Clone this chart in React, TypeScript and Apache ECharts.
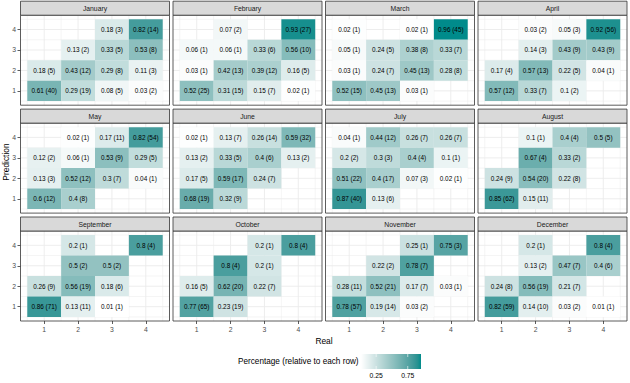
import React, { useEffect, useRef } from "react";
import * as echarts from "echarts";

// ---------- data ----------
const months = [
  "January", "February", "March", "April", "May", "June",
  "July", "August", "September", "October", "November", "December",
];
// each cell: [real, prediction, percentage, count]
const january = [[3,4,0.18,3],[4,4,0.82,14],[2,3,0.13,2],[3,3,0.33,5],[4,3,0.53,8],[1,2,0.18,5],[2,2,0.43,12],[3,2,0.29,8],[4,2,0.11,3],[1,1,0.61,40],[2,1,0.29,19],[3,1,0.08,5],[4,1,0.03,2]];
const february = [[2,4,0.07,2],[4,4,0.93,27],[1,3,0.06,1],[2,3,0.06,1],[3,3,0.33,6],[4,3,0.56,10],[1,2,0.03,1],[2,2,0.42,13],[3,2,0.39,12],[4,2,0.16,5],[1,1,0.52,25],[2,1,0.31,15],[3,1,0.15,7],[4,1,0.02,1]];
const march = [[1,4,0.02,1],[3,4,0.02,1],[4,4,0.96,45],[1,3,0.05,1],[2,3,0.24,5],[3,3,0.38,8],[4,3,0.33,7],[1,2,0.03,1],[2,2,0.24,7],[3,2,0.45,13],[4,2,0.28,8],[1,1,0.52,15],[2,1,0.45,13],[3,1,0.03,1]];
const april = [[2,4,0.03,2],[3,4,0.05,3],[4,4,0.92,56],[2,3,0.14,3],[3,3,0.43,9],[4,3,0.43,9],[1,2,0.17,4],[2,2,0.57,13],[3,2,0.22,5],[4,2,0.04,1],[1,1,0.57,12],[2,1,0.33,7],[3,1,0.1,2]];
const may = [[2,4,0.02,1],[3,4,0.17,11],[4,4,0.82,54],[1,3,0.12,2],[2,3,0.06,1],[3,3,0.53,9],[4,3,0.29,5],[1,2,0.13,3],[2,2,0.52,12],[3,2,0.3,7],[4,2,0.04,1],[1,1,0.6,12],[2,1,0.4,8]];
const june = [[1,4,0.02,1],[2,4,0.13,7],[3,4,0.26,14],[4,4,0.59,32],[1,3,0.13,2],[2,3,0.33,5],[3,3,0.4,6],[4,3,0.13,2],[1,2,0.17,5],[2,2,0.59,17],[3,2,0.24,7],[1,1,0.68,19],[2,1,0.32,9]];
const july = [[1,4,0.04,1],[2,4,0.44,12],[3,4,0.26,7],[4,4,0.26,7],[1,3,0.2,2],[2,3,0.3,3],[3,3,0.4,4],[4,3,0.1,1],[1,2,0.51,22],[2,2,0.4,17],[3,2,0.07,3],[4,2,0.02,1],[1,1,0.87,40],[2,1,0.13,6]];
const august = [[2,4,0.1,1],[3,4,0.4,4],[4,4,0.5,5],[2,3,0.67,4],[3,3,0.33,2],[1,2,0.24,9],[2,2,0.54,20],[3,2,0.22,8],[1,1,0.85,62],[2,1,0.15,11]];
const september = [[2,4,0.2,1],[4,4,0.8,4],[2,3,0.5,2],[3,3,0.5,2],[1,2,0.26,9],[2,2,0.56,19],[3,2,0.18,6],[1,1,0.86,71],[2,1,0.13,11],[3,1,0.01,1]];
const october = [[3,4,0.2,1],[4,4,0.8,4],[2,3,0.8,4],[3,3,0.2,1],[1,2,0.16,5],[2,2,0.62,20],[3,2,0.22,7],[1,1,0.77,65],[2,1,0.23,19]];
const november = [[3,4,0.25,1],[4,4,0.75,3],[2,3,0.22,2],[3,3,0.78,7],[1,2,0.28,11],[2,2,0.52,21],[3,2,0.17,7],[4,2,0.03,1],[1,1,0.78,57],[2,1,0.19,14],[3,1,0.03,2]];
const december = [[2,4,0.2,1],[4,4,0.8,4],[2,3,0.13,2],[3,3,0.47,7],[4,3,0.4,6],[1,2,0.24,8],[2,2,0.56,19],[3,2,0.21,7],[1,1,0.82,59],[2,1,0.14,10],[3,1,0.03,2],[4,1,0.01,1]];
const monthData = [january, february, march, april, may, june, july, august, september, october, november, december];

const tickValues = [1, 2, 3, 4];
const gridBreaks = [0.5, 1, 1.5, 2, 2.5, 3, 3.5, 4, 4.5];
const legendTicks = [0.25, 0.75];
const fillLow = "#FFFFFF";
const fillHigh = "#008B8B";

// ---------- colour scale (CIELAB interpolation like ggplot2) ----------
function hexToRgb(h: string) {
  const n = parseInt(h.slice(1), 16);
  return [(n >> 16) & 255, (n >> 8) & 255, n & 255];
}
function toLin(c: number) { c /= 255; return c <= 0.04045 ? c / 12.92 : Math.pow((c + 0.055) / 1.055, 2.4); }
function fromLin(c: number) {
  const v = c <= 0.0031308 ? 12.92 * c : 1.055 * Math.pow(c, 1 / 2.4) - 0.055;
  return Math.round(Math.max(0, Math.min(1, v)) * 255);
}
const WX = 0.95047, WY = 1, WZ = 1.08883;
function rgbToLab(rgb: number[]) {
  const [r, g, b] = rgb.map(toLin);
  const X = (0.4124 * r + 0.3576 * g + 0.1805 * b) / WX;
  const Y = (0.2126 * r + 0.7152 * g + 0.0722 * b) / WY;
  const Z = (0.0193 * r + 0.1192 * g + 0.9505 * b) / WZ;
  const f = (t: number) => (t > 0.008856 ? Math.cbrt(t) : 7.787 * t + 16 / 116);
  const fx = f(X), fy = f(Y), fz = f(Z);
  return [116 * fy - 16, 500 * (fx - fy), 200 * (fy - fz)];
}
function labToHex(lab: number[]) {
  const fy = (lab[0] + 16) / 116, fx = fy + lab[1] / 500, fz = fy - lab[2] / 200;
  const inv = (t: number) => (t * t * t > 0.008856 ? t * t * t : (t - 16 / 116) / 7.787);
  const X = inv(fx) * WX, Y = inv(fy) * WY, Z = inv(fz) * WZ;
  const r = 3.2406 * X - 1.5372 * Y - 0.4986 * Z;
  const g = -0.9689 * X + 1.8758 * Y + 0.0415 * Z;
  const b = 0.0557 * X - 0.204 * Y + 1.057 * Z;
  return "#" + [r, g, b].map(fromLin).map((v) => v.toString(16).padStart(2, "0")).join("");
}
const labLow = rgbToLab(hexToRgb(fillLow));
const labHigh = rgbToLab(hexToRgb(fillHigh));
const colorStops: string[] = [];
for (let i = 0; i <= 20; i++) {
  const t = i / 20;
  colorStops.push(labToHex(labLow.map((v, k) => v + (labHigh[k] - v) * t)));
}

export default function App() {
  const ref = useRef<HTMLDivElement>(null);
  useEffect(() => {
    if (!ref.current) return;
    const chart = echarts.init(ref.current, null, { renderer: "svg" });
    const font = "Liberation Sans, Arial, Helvetica, sans-serif";

    const allPct = monthData.flat().map((d) => d[2]);
    const vMin = Math.min(...allPct);
    const vMax = Math.max(...allPct);

    const panelW = 149, panelH = 90, stripH = 14;
    const colLeft = [20.5, 173, 325.5, 478];
    const rowTop = [15.2, 123.1, 231];

    const grids: any[] = [], xAxes: any[] = [], yAxes: any[] = [], series: any[] = [], graphics: any[] = [];
    const tileSeriesIdx: number[] = [];

    months.forEach((m, i) => {
      const c = i % 4, r = Math.floor(i / 4);
      const left = colLeft[c], top = rowTop[r];
      grids.push({ left, top, width: panelW, height: panelH, show: false });
      const bottom = r === 2, leftCol = c === 0;
      xAxes.push({
        gridIndex: i, type: "value", min: 0.3, max: 4.7,
        axisLine: { show: false }, splitLine: { show: false },
        axisTick: { show: bottom, customValues: tickValues, length: 3, lineStyle: { color: "#333333", width: 0.8 } },
        axisLabel: { show: bottom, customValues: tickValues, fontSize: 6.8, color: "#4D4D4D", margin: 4.5, fontFamily: font },
      });
      yAxes.push({
        gridIndex: i, type: "value", min: 0.3, max: 4.7,
        axisLine: { show: false }, splitLine: { show: false },
        axisTick: { show: leftCol, customValues: tickValues, length: 3, lineStyle: { color: "#333333", width: 0.8 } },
        axisLabel: { show: leftCol, customValues: tickValues, fontSize: 6.8, color: "#4D4D4D", margin: 4.5, fontFamily: font },
      });
      // grid lines
      series.push({
        type: "custom", xAxisIndex: i, yAxisIndex: i, z: 1, silent: true,
        data: gridBreaks.map((v) => [v, v]),
        renderItem: (params: any, api: any) => {
          const v = api.value(0);
          const cs = params.coordSys;
          const p = api.coord([v, v]);
          const major = Number.isInteger(v);
          const st = { stroke: "#EBEBEB", lineWidth: major ? 0.9 : 0.5 };
          return {
            type: "group",
            children: [
              { type: "line", shape: { x1: p[0], y1: cs.y, x2: p[0], y2: cs.y + cs.height }, style: st },
              { type: "line", shape: { x1: cs.x, y1: p[1], x2: cs.x + cs.width, y2: p[1] }, style: st },
            ],
          };
        },
      });
      // tiles
      tileSeriesIdx.push(series.length);
      series.push({
        type: "custom", xAxisIndex: i, yAxisIndex: i, z: 2, silent: true,
        data: monthData[i],
        renderItem: (params: any, api: any) => {
          const x = api.value(0), y = api.value(1);
          const p1 = api.coord([x - 0.5, y + 0.5]);
          const p2 = api.coord([x + 0.5, y - 0.5]);
          return {
            type: "group",
            children: [
              { type: "rect", shape: { x: p1[0], y: p1[1], width: p2[0] - p1[0], height: p2[1] - p1[1] }, style: { fill: api.visual("color") } },
              {
                type: "text", x: (p1[0] + p2[0]) / 2, y: (p1[1] + p2[1]) / 2,
                style: { text: `${api.value(2)} (${api.value(3)})`, fill: "#000000", fontSize: 6.4, fontFamily: font, align: "center", verticalAlign: "middle" },
              },
            ],
          };
        },
      });
      // panel border
      graphics.push({ type: "rect", z: 100, shape: { x: left, y: top, width: panelW, height: panelH }, style: { fill: "none", stroke: "#333333", lineWidth: 0.8 } });
      // strip
      graphics.push({ type: "rect", z: 100, shape: { x: left, y: top - stripH, width: panelW, height: stripH }, style: { fill: "#D9D9D9", stroke: "#333333", lineWidth: 0.8 } });
      graphics.push({ type: "text", z: 101, x: left + panelW / 2, y: top - stripH / 2, style: { text: m, fill: "#1A1A1A", fontSize: 6.8, fontFamily: font, align: "center", verticalAlign: "middle" } });
    });

    // axis titles
    graphics.push({ type: "text", x: 324, y: 341, style: { text: "Real", fill: "#000", fontSize: 8.4, fontFamily: font, align: "center", verticalAlign: "middle" } });
    graphics.push({ type: "text", x: 6, y: 162, rotation: Math.PI / 2, style: { text: "Prediction", fill: "#000", fontSize: 8.4, fontFamily: font, align: "center", verticalAlign: "middle" } });

    // legend
    const barX = 361, barY = 354, barW = 60, barH = 15;
    graphics.push({ type: "text", x: 238, y: barY + barH / 2, style: { text: "Percentage (relative to each row)", fill: "#000", fontSize: 8.2, fontFamily: font, align: "left", verticalAlign: "middle" } });
    graphics.push({
      type: "rect", shape: { x: barX, y: barY, width: barW, height: barH },
      style: { fill: new echarts.graphic.LinearGradient(0, 0, 1, 0, colorStops.map((c, k) => ({ offset: k / (colorStops.length - 1), color: c }))) },
    });
    legendTicks.forEach((v) => {
      const x = barX + ((v - vMin) / (vMax - vMin)) * barW;
      graphics.push({ type: "line", shape: { x1: x, y1: barY, x2: x, y2: barY + barH / 5 }, style: { stroke: "#FFFFFF", lineWidth: 0.6 } });
      graphics.push({ type: "line", shape: { x1: x, y1: barY + barH, x2: x, y2: barY + barH * 4 / 5 }, style: { stroke: "#FFFFFF", lineWidth: 0.6 } });
      graphics.push({ type: "text", x, y: barY + barH + 6, style: { text: String(v), fill: "#000", fontSize: 6.8, fontFamily: font, align: "center", verticalAlign: "middle" } });
    });

    chart.setOption({
      animation: false,
      backgroundColor: "#FFFFFF",
      grid: grids,
      xAxis: xAxes,
      yAxis: yAxes,
      visualMap: { type: "continuous", show: false, min: vMin, max: vMax, dimension: 2, seriesIndex: tileSeriesIdx, inRange: { color: colorStops } },
      series,
      graphic: graphics,
    });
    return () => chart.dispose();
  }, []);
  return <div ref={ref} style={{ position: "fixed", left: 0, top: 0, width: 630, height: 383 }} />;
}
